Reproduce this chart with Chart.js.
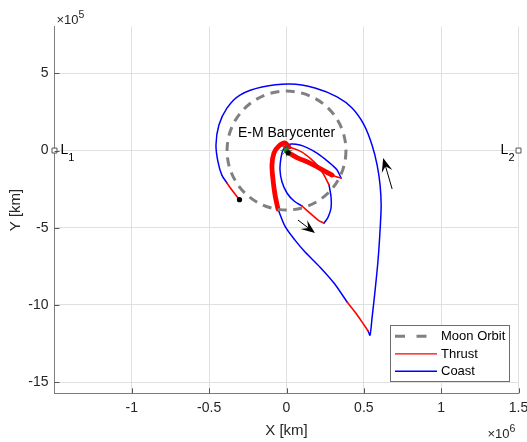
<!DOCTYPE html>
<html>
<head>
<meta charset="utf-8">
<script src="https://cdn.jsdelivr.net/npm/chart.js@4/dist/chart.umd.min.js"></script>
<style>
  html, body { margin: 0; padding: 0; background: #fff; }
  canvas { display: block; }
</style>
</head>
<body>
<canvas id="c" width="527" height="442"></canvas>
<script>
// Spacecraft trajectory in the Earth-Moon barycentric frame (km)

const xTicks = [-1e6, -0.5e6, 0, 0.5e6, 1e6, 1.5e6];
const yTicks = [-15e5, -10e5, -5e5, 0, 5e5];
const legendLabels = ['Moon Orbit', 'Thrust', 'Coast'];

const moonOrbitRadius = 384400;

// Thrust arcs
const thrustBandX = [16e3, -10e3, -49e3, -81e3, -94e3, -87e3, -74e3, -55e3];
const thrustBandY = [23e3, 49e3, 29e3, -16e3, -94e3, -191e3, -288e3, -379e3];

const thrustDiagonalX = [295e3, 223e3, 152e3, 74e3, 16e3];
const thrustDiagonalY = [-159e3, -120e3, -81e3, -49e3, -16e3];

const thrustTipX = [353e3, 327e3, 295e3];
const thrustTipY = [-178e3, -172e3, -159e3];

const thrustCrossX = [-23e3, 36e3, 100e3, 159e3, 204e3, 243e3, 275e3];
const thrustCrossY = [29e3, 16e3, -10e3, -55e3, -100e3, -159e3, -223e3];

const thrustLoopBottomX = [243e3, 204e3, 152e3, 100e3];
const thrustLoopBottomY = [-470e3, -450e3, -405e3, -359e3];

const thrustDepartX = [392e3, 443e3, 489e3, 528e3];
const thrustDepartY = [-981e3, -1046e3, -1111e3, -1169e3];

const thrustArriveX = [-385e3, -353e3, -304e3];
const thrustArriveY = [-210e3, -256e3, -318e3];

// Coast arcs
const coastInnerArcX = [-3e3, 29e3, 87e3, 139e3, 197e3, 249e3, 295e3, 327e3, 353e3];
const coastInnerArcY = [23e3, 42e3, 36e3, 16e3, -16e3, -55e3, -94e3, -126e3, -178e3];

const coastLoopRightX = [275e3, 288e3, 288e3, 269e3, 243e3];
const coastLoopRightY = [-223e3, -301e3, -372e3, -431e3, -470e3];

const coastLoopLeftX = [100e3, 49e3, 3e3, -29e3, -42e3, -36e3, -23e3, -3e3];
const coastLoopLeftY = [-359e3, -327e3, -275e3, -204e3, -126e3, -49e3, 3e3, 23e3];

const coastDescentX = [-55e3, -10e3, 55e3, 120e3, 217e3, 307e3, 392e3];
const coastDescentY = [-379e3, -489e3, -580e3, -657e3, -755e3, -858e3, -981e3];

const coastOuterX = [528e3, 540e3, 553e3, 573e3, 592e3, 605e3, 612e3, 605e3, 586e3, 553e3, 502e3,
  424e3, 327e3, 184e3, 23e3, -159e3, -301e3, -385e3, -437e3, -456e3, -443e3, -418e3, -385e3];
const coastOuterY = [-1169e3, -1195e3, -1085e3, -904e3, -709e3, -515e3, -353e3, -223e3, -94e3, 36e3, 165e3,
  275e3, 347e3, 405e3, 431e3, 411e3, 359e3, 275e3, 165e3, 36e3, -74e3, -159e3, -210e3];

// Points of interest
const lagrangeX = [-1.5e6, 1.5e6];
const lagrangeY = [0, 0];
const lagrangeNames = ['1', '2'];
const barycenter = [0, 0];
const earthDot = [10e3, -15e3];
const barycenterLabelY = 85e3;

// Direction arrows: [tailX, tailY, headX, headY]
const arrowUp = [683e3, -249e3, 625e3, -49e3];
const arrowDown = [74e3, -450e3, 184e3, -534e3];

const FONT = "'Liberation Sans', Arial, Helvetica, sans-serif";
const TXT = '#262626';
const RED = '#ff0000';
const BLUE = '#0000ff';

const pts = (xs, ys) => xs.map((x, i) => ({ x, y: ys[i] }));

function path(xs, ys, color, width, label) {
  return {
    label, data: pts(xs, ys), showLine: true, borderColor: color, backgroundColor: color,
    borderWidth: width, pointRadius: 0, fill: false
  };
}

const datasets = [
  // markers (drawn on top)
  { label: 'Earth', data: pts([earthDot[0]], [earthDot[1]]), pointRadius: 2.6, pointStyle: 'circle',
    backgroundColor: '#000', borderColor: '#000', borderWidth: 0 },
  { label: 'Barycenter', data: pts([barycenter[0]], [barycenter[1]]), pointRadius: 2.6, pointStyle: 'circle',
    backgroundColor: '#109010', borderColor: '#109010', borderWidth: 0 },
  { label: 'Barycenter star', data: pts([barycenter[0]], [barycenter[1]]), pointRadius: 6, pointStyle: 'star',
    backgroundColor: 'rgba(0,0,0,0)', borderColor: '#555', borderWidth: 0.8 },
  { label: 'End', data: pts([thrustArriveX[2]], [thrustArriveY[2]]), pointRadius: 2.6, pointStyle: 'circle',
    backgroundColor: '#000', borderColor: '#000', borderWidth: 0 },
  { label: 'Lagrange', data: pts(lagrangeX, lagrangeY), pointRadius: 3.5, pointStyle: 'rect',
    backgroundColor: '#fff', borderColor: '#555', borderWidth: 1, clip: false },
  // thrust arcs
  path(thrustBandX, thrustBandY, RED, 4.8, 'Thrust'),
  path(thrustDiagonalX, thrustDiagonalY, RED, 4.8, 'Thrust'),
  path(thrustTipX, thrustTipY, RED, 1.6, 'Thrust'),
  path(thrustCrossX, thrustCrossY, RED, 1.6, 'Thrust'),
  path(thrustLoopBottomX, thrustLoopBottomY, RED, 1.6, 'Thrust'),
  path(thrustDepartX, thrustDepartY, RED, 1.6, 'Thrust'),
  path(thrustArriveX, thrustArriveY, RED, 1.6, 'Thrust'),
  // coast arcs
  path(coastInnerArcX, coastInnerArcY, BLUE, 1.5, 'Coast'),
  path(coastLoopRightX, coastLoopRightY, BLUE, 1.5, 'Coast'),
  path(coastLoopLeftX, coastLoopLeftY, BLUE, 1.5, 'Coast'),
  path(coastDescentX, coastDescentY, BLUE, 1.5, 'Coast'),
  path(coastOuterX, coastOuterY, BLUE, 1.5, 'Coast')
];

function drawArrow(ctx, x0, y0, x1, y1) {
  const dx = x1 - x0, dy = y1 - y0, len = Math.hypot(dx, dy);
  const ux = dx / len, uy = dy / len, nx = -uy, ny = ux;
  const L = 14, W = 11;
  ctx.beginPath();
  ctx.moveTo(x0, y0);
  ctx.lineTo(x1 - ux * L * 0.5, y1 - uy * L * 0.5);
  ctx.lineWidth = 1;
  ctx.strokeStyle = '#000';
  ctx.stroke();
  ctx.beginPath();
  ctx.moveTo(x1, y1);
  ctx.lineTo(x1 - ux * L + nx * W / 2, y1 - uy * L + ny * W / 2);
  ctx.lineTo(x1 - ux * L * 0.6, y1 - uy * L * 0.6);
  ctx.lineTo(x1 - ux * L - nx * W / 2, y1 - uy * L - ny * W / 2);
  ctx.closePath();
  ctx.fillStyle = '#000';
  ctx.fill();
}

const decor = {
  id: 'decor',
  afterDatasetsDraw(chart) {
    const { ctx, chartArea: a, scales: { x, y } } = chart;
    const px = v => x.getPixelForValue(v);
    const py = v => y.getPixelForValue(v);
    ctx.save();

    // Moon orbit
    ctx.beginPath();
    ctx.setLineDash([9, 6.5]);
    ctx.lineWidth = 3;
    ctx.strokeStyle = '#808080';
    ctx.arc(px(0), py(0), px(moonOrbitRadius) - px(0), 0, Math.PI * 2);
    ctx.stroke();
    ctx.setLineDash([]);

    // Direction arrows
    [arrowUp, arrowDown].forEach(ar => drawArrow(ctx, px(ar[0]), py(ar[1]), px(ar[2]), py(ar[3])));

    // Barycenter label
    ctx.fillStyle = '#000';
    ctx.font = `14px ${FONT}`;
    ctx.textAlign = 'center';
    ctx.textBaseline = 'alphabetic';
    ctx.fillText('E-M Barycenter', px(barycenter[0]), py(barycenterLabelY));

    // Lagrange point labels
    lagrangeX.forEach((lx, i) => {
      const cx = px(lx), cy = py(lagrangeY[i]);
      ctx.font = `14px ${FONT}`;
      const wL = ctx.measureText('L').width;
      ctx.font = `11px ${FONT}`;
      const wS = ctx.measureText(lagrangeNames[i]).width;
      const x0 = i === 0 ? cx + 6 : cx - 4 - wL - wS;
      ctx.textAlign = 'left';
      ctx.font = `14px ${FONT}`;
      ctx.fillText('L', x0, cy + 3.5);
      ctx.font = `11px ${FONT}`;
      ctx.fillText(lagrangeNames[i], x0 + wL, cy + 10);
    });

    // Inward tick marks
    ctx.strokeStyle = '#555';
    ctx.lineWidth = 1;
    ctx.beginPath();
    xTicks.forEach(v => {
      const p = Math.round(px(v)) + 0.5;
      ctx.moveTo(p, a.bottom);
      ctx.lineTo(p, a.bottom - 5);
    });
    yTicks.forEach(v => {
      const p = Math.round(py(v)) + 0.5;
      ctx.moveTo(a.left, p);
      ctx.lineTo(a.left + 5, p);
    });
    ctx.stroke();

    // Axis exponents
    ctx.fillStyle = TXT;
    ctx.textAlign = 'left';
    ctx.font = `13px ${FONT}`;
    ctx.fillText('\u00d710', a.left + 2, a.top - 3);
    let w = ctx.measureText('\u00d710').width;
    ctx.font = `10.5px ${FONT}`;
    ctx.fillText('5', a.left + 2 + w, a.top - 9);

    ctx.font = `13px ${FONT}`;
    ctx.fillText('\u00d710', a.right - 31, a.bottom + 45);
    w = ctx.measureText('\u00d710').width;
    ctx.font = `10.5px ${FONT}`;
    ctx.fillText('6', a.right - 31 + w, a.bottom + 39);

    // Legend
    const lx = a.right - 128.5, ly = a.bottom - 68, lw = 119, lh = 56;
    ctx.fillStyle = '#fff';
    ctx.fillRect(lx, ly, lw, lh);
    ctx.strokeStyle = '#6e6e6e';
    ctx.lineWidth = 1;
    ctx.strokeRect(Math.round(lx) + 0.5, Math.round(ly) + 0.5, lw, lh);
    const rows = [ly + 11, ly + 28.5, ly + 46];
    const styles = [
      { c: '#808080', w: 3, dash: [10, 11.5] },
      { c: RED, w: 1.2, dash: [] },
      { c: BLUE, w: 1.5, dash: [] }
    ];
    legendLabels.forEach((t, i) => {
      const s = styles[i];
      ctx.beginPath();
      ctx.setLineDash(s.dash);
      ctx.strokeStyle = s.c;
      ctx.lineWidth = s.w;
      ctx.moveTo(lx + 5, rows[i]);
      ctx.lineTo(lx + (i === 0 ? 37 : 47), rows[i]);
      ctx.stroke();
      ctx.setLineDash([]);
      ctx.fillStyle = '#000';
      ctx.font = `13px ${FONT}`;
      ctx.textBaseline = 'middle';
      ctx.fillText(t, lx + 51, rows[i] + 0.5);
    });
    ctx.restore();
  }
};

new Chart(document.getElementById('c'), {
  type: 'scatter',
  data: { datasets },
  options: {
    responsive: false,
    animation: false,
    layout: { padding: { top: 26.7, right: 8.5, left: 0, bottom: 0 } },
    plugins: { legend: { display: false }, tooltip: { enabled: false } },
    elements: { line: { tension: 0.3, borderCapStyle: 'round', borderJoinStyle: 'round' } },
    scales: {
      x: {
        type: 'linear', position: 'bottom', min: -1.5e6, max: 1.5e6,
        afterBuildTicks: s => { s.ticks = xTicks.map(v => ({ value: v })); },
        afterFit: s => { s.height = 48.7; s.paddingLeft = 0; s.paddingRight = 0; },
        ticks: {
          callback: v => String(+(v / 1e6).toFixed(2)),
          font: { family: FONT, size: 14 }, color: TXT, padding: 6, maxRotation: 0, autoSkip: false
        },
        grid: { color: '#e0e0e0', drawTicks: false, lineWidth: 1 },
        border: { color: '#7d7d7d', width: 1 },
        title: { display: true, text: 'X [km]', color: TXT, font: { family: FONT, size: 15 },
                 padding: { top: 0, bottom: 2.5 } }
      },
      y: {
        type: 'linear', position: 'left', min: -1.572e6, max: 0.802e6,
        afterBuildTicks: s => { s.ticks = yTicks.map(v => ({ value: v })); },
        afterFit: s => { s.width = 54.5; s.paddingTop = 0; s.paddingBottom = 0; },
        ticks: {
          callback: v => String(+(v / 1e5).toFixed(2)),
          font: { family: FONT, size: 14 }, color: TXT, padding: 6, autoSkip: false
        },
        grid: { color: '#e0e0e0', drawTicks: false, lineWidth: 1 },
        border: { color: '#7d7d7d', width: 1 },
        title: { display: true, text: 'Y [km]', color: TXT, font: { family: FONT, size: 15 },
                 padding: { top: 6.5, bottom: 0 } }
      }
    }
  },
  plugins: [decor]
});
</script>
</body>
</html>
